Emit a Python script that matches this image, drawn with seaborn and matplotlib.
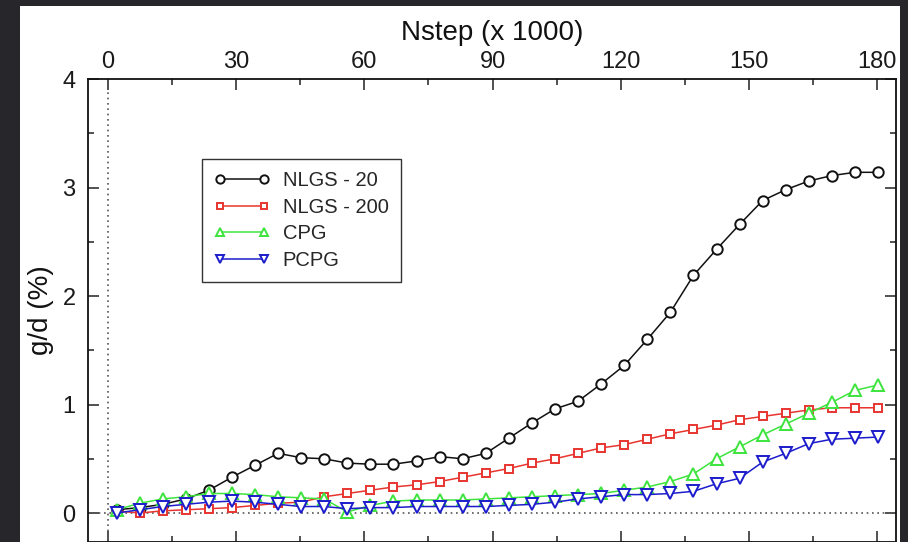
import matplotlib
matplotlib.use("Agg")
import matplotlib.pyplot as plt
import seaborn as sns
import pandas as pd
from matplotlib.patches import Rectangle
from matplotlib.ticker import MultipleLocator

# ---- data ----
nstep = [2.0, 7.4, 12.8, 18.2, 23.6, 29.0, 34.4, 39.8, 45.2, 50.6, 56.0, 61.4,
         66.8, 72.2, 77.6, 83.0, 88.4, 93.8, 99.2, 104.6, 110.0, 115.4, 120.8,
         126.2, 131.6, 137.0, 142.4, 147.8, 153.2, 158.6, 164.0, 169.4, 174.8, 180.2]

nlgs_20 = [0.03, 0.05, 0.08, 0.13, 0.21, 0.33, 0.44, 0.55, 0.51, 0.50, 0.46, 0.45,
           0.45, 0.48, 0.52, 0.50, 0.55, 0.69, 0.83, 0.96, 1.03, 1.19, 1.36,
           1.60, 1.85, 2.19, 2.43, 2.66, 2.88, 2.98, 3.06, 3.11, 3.14, 3.14]

nlgs_200 = [0.02, 0.00, 0.02, 0.03, 0.04, 0.05, 0.07, 0.09, 0.10, 0.15, 0.18, 0.21,
            0.24, 0.26, 0.29, 0.33, 0.37, 0.41, 0.46, 0.50, 0.55, 0.60, 0.63,
            0.68, 0.73, 0.77, 0.81, 0.86, 0.89, 0.92, 0.95, 0.97, 0.97, 0.97]

cpg = [0.03, 0.09, 0.13, 0.15, 0.18, 0.18, 0.17, 0.15, 0.14, 0.13, 0.01, 0.07,
       0.11, 0.12, 0.12, 0.12, 0.13, 0.14, 0.15, 0.16, 0.17, 0.18, 0.21,
       0.24, 0.29, 0.36, 0.50, 0.61, 0.72, 0.82, 0.92, 1.02, 1.13, 1.18]

pcpg = [0.00, 0.03, 0.06, 0.08, 0.10, 0.11, 0.10, 0.08, 0.06, 0.06, 0.04, 0.05,
        0.05, 0.06, 0.06, 0.06, 0.06, 0.07, 0.08, 0.10, 0.13, 0.15, 0.17,
        0.17, 0.18, 0.20, 0.27, 0.32, 0.47, 0.55, 0.64, 0.68, 0.69, 0.70]

series_names = ["NLGS - 20", "NLGS - 200", "CPG", "PCPG"]
series_values = [nlgs_20, nlgs_200, cpg, pcpg]
x_ticks = [0, 30, 60, 90, 120, 150, 180]
y_ticks = [0, 1, 2, 3, 4]

# ---- styles ----
colors = ["#111111", "#e8352f", "#3de43d", "#1c1ccc"]
markers = ["o", "s", "^", "v"]
msizes = [7.5, 6.0, 8.0, 8.0]

sns.set_theme(style="ticks")
plt.rcParams["font.family"] = ["Liberation Sans", "DejaVu Sans"]

W, H = 908, 542
fig = plt.figure(figsize=(W / 100, H / 100), dpi=100, facecolor="#27272b")
fig.patches.append(Rectangle((20 / W, 0), (900 - 20) / W, (H - 6) / H,
                             transform=fig.transFigure, facecolor="white",
                             edgecolor="none", zorder=-10))

ax = fig.add_axes([88 / W, 0, (896 - 88) / W, (H - 79) / H])
ax.set_zorder(5)
ax.set_facecolor("white")

ax.axvline(0, color="#555555", lw=1.2, ls=(0, (1, 2.2)), zorder=1)
ax.axhline(0, color="#555555", lw=1.2, ls=(0, (1, 2.2)), zorder=1)

for name, vals, c, m, ms in zip(series_names, series_values, colors, markers, msizes):
    df = pd.DataFrame({"Nstep": nstep, "gd": vals})
    sns.lineplot(data=df, x="Nstep", y="gd", ax=ax, color=c, marker=m,
                 markersize=ms, markerfacecolor="white", markeredgecolor=c,
                 markeredgewidth=1.4, lw=1.1, label=name, zorder=3)

ax.set_xlim(-4.68, 184.4)
ax.set_ylim(-0.267, 4)

ax.xaxis.set_ticks_position("both")
ax.yaxis.set_ticks_position("both")
ax.xaxis.set_label_position("top")
ax.set_xticks(x_ticks)
ax.set_yticks(y_ticks)
ax.xaxis.set_minor_locator(MultipleLocator(15))
ax.yaxis.set_minor_locator(MultipleLocator(0.5))
ax.tick_params(axis="both", which="major", direction="in", length=8, width=1.1,
               color="#222222", labelsize=17, labelcolor="#1a1a1a",
               top=True, bottom=True, left=True, right=True,
               labeltop=True, labelbottom=False, labelleft=True, labelright=False)
ax.tick_params(axis="x", which="major", pad=4)
ax.tick_params(axis="y", which="major", pad=9)
ax.tick_params(axis="both", which="minor", direction="in", length=4.5, width=1.1,
               color="#222222", top=True, bottom=True, left=True, right=True)

for s in ax.spines.values():
    s.set_linewidth(1.3)
    s.set_color("#111111")

ax.set_xlabel("Nstep (x 1000)", fontsize=20, color="#111111", labelpad=8)
ax.set_ylabel("g/d (%)", fontsize=20, color="#111111", labelpad=6)

leg = ax.legend(loc="upper left", bbox_to_anchor=((202 - 88) / 808, 1 - (159 - 79) / 463),
                borderaxespad=0, numpoints=2, fontsize=14.5, frameon=True,
                fancybox=False, edgecolor="#333333", framealpha=1,
                handlelength=2.8, handletextpad=0.6, labelspacing=0.38,
                borderpad=0.6, markerscale=0.8)
leg.get_frame().set_linewidth(1.0)

fig.savefig("out.png", dpi=100, facecolor=fig.get_facecolor())
